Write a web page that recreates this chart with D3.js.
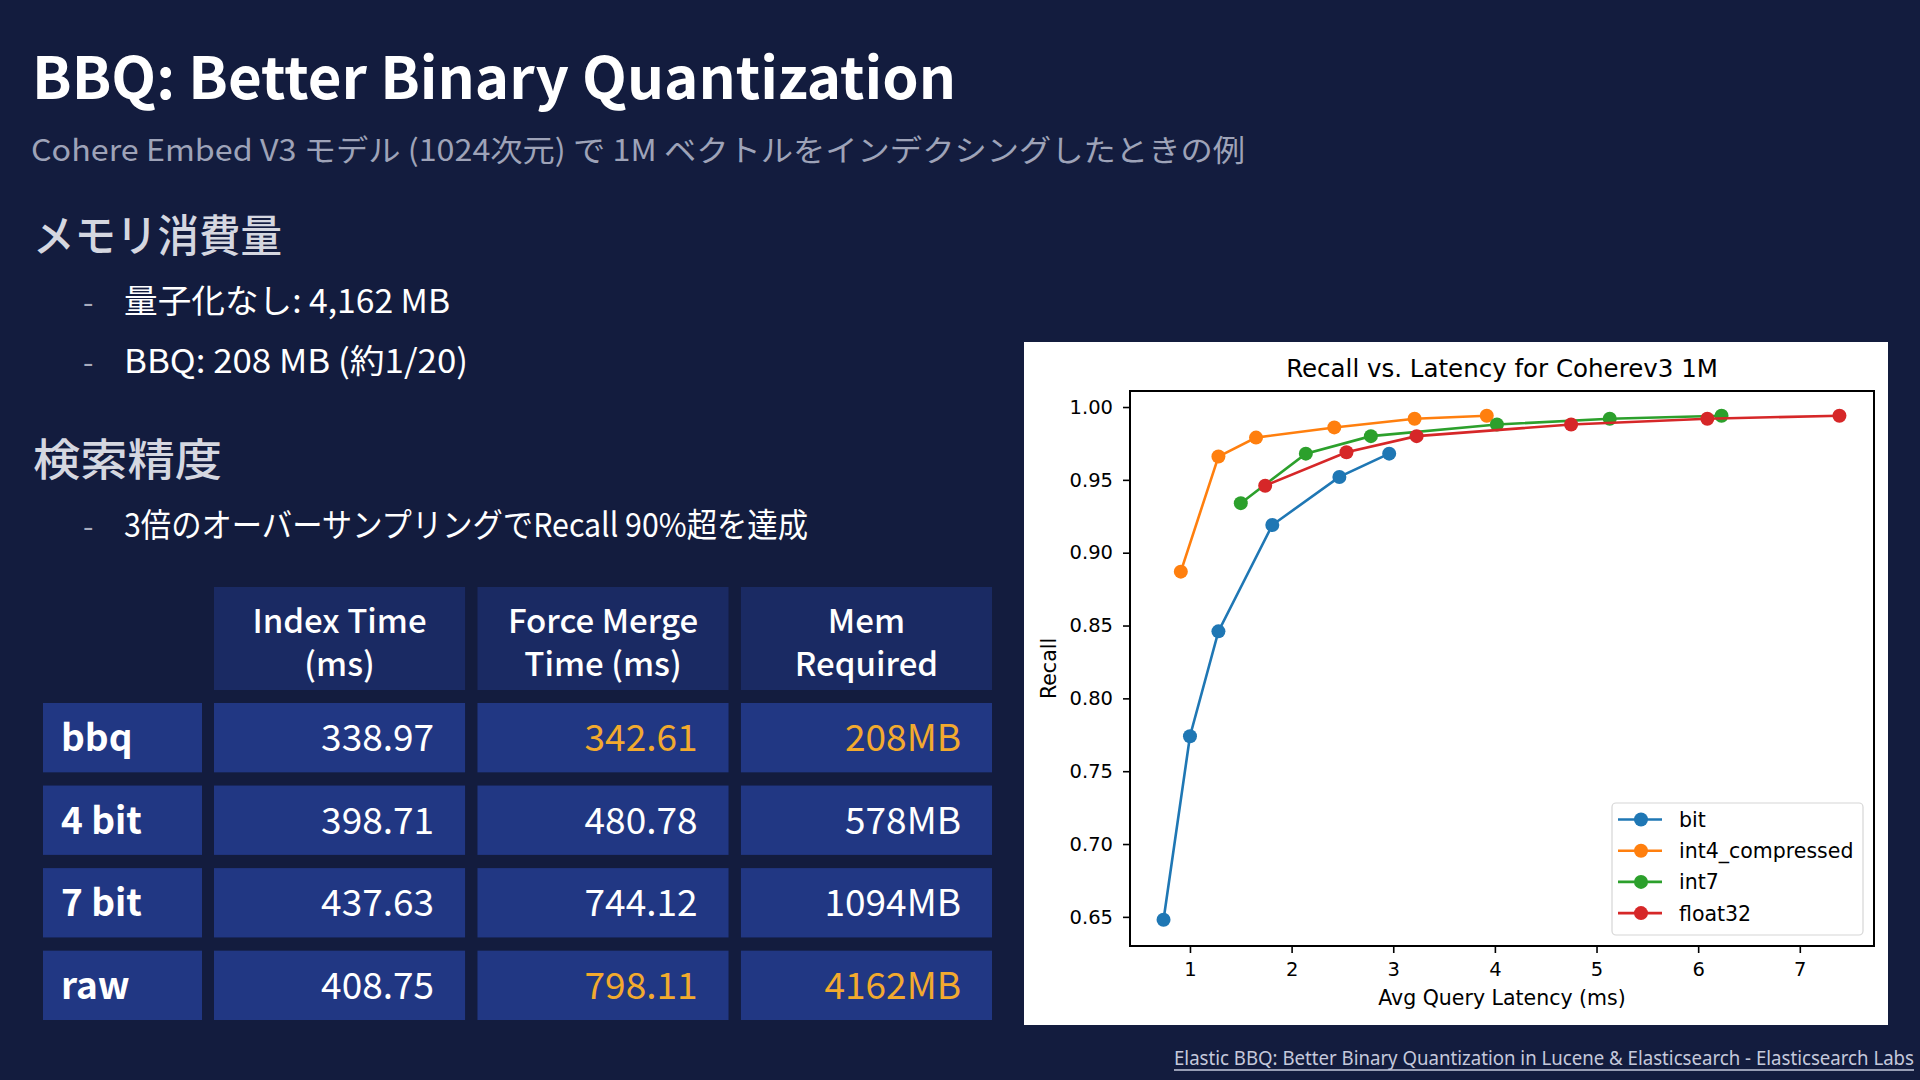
<!DOCTYPE html>
<html>
<head>
<meta charset="utf-8">
<script src="https://cdn.jsdelivr.net/npm/d3@7"></script>
<style>
  body { margin: 0; background: #131c3e; }
  svg { display: block; }
</style>
</head>
<body>
<svg id="drawing_region"></svg>
<script>
// ---- data ----
const seriesNames = ["bit", "int4_compressed", "int7", "float32"];
const seriesColors = ["#1f77b4", "#ff7f0e", "#2ca02c", "#d62728"];

const bitLatency = [0.74, 1.00, 1.28, 1.81, 2.47, 2.96];
const bitRecall = [0.648, 0.774, 0.846, 0.919, 0.952, 0.968];
const int4Latency = [0.91, 1.28, 1.65, 2.42, 3.21, 3.92];
const int4Recall = [0.887, 0.966, 0.979, 0.986, 0.992, 0.994];
const int7Latency = [1.50, 2.14, 2.78, 4.02, 5.13, 6.23];
const int7Recall = [0.934, 0.968, 0.980, 0.988, 0.992, 0.994];
const float32Latency = [1.74, 2.54, 3.23, 4.75, 6.09, 7.39];
const float32Recall = [0.946, 0.969, 0.980, 0.988, 0.992, 0.994];

const xTicks = [1, 2, 3, 4, 5, 6, 7];
const yTicks = [0.65, 0.70, 0.75, 0.80, 0.85, 0.90, 0.95, 1.00];

const tableHeaders = [["Index Time", "(ms)"], ["Force Merge", "Time (ms)"], ["Mem", "Required"]];
const tableRows = ["bbq", "4 bit", "7 bit", "raw"];
const indexTime = ["338.97", "398.71", "437.63", "408.75"];
const forceMergeTime = ["342.61", "480.78", "744.12", "798.11"];
const memRequired = ["208MB", "578MB", "1094MB", "4162MB"];
// cells shown in orange: [row, column]
const highlighted = [[0, 1], [0, 2], [3, 1], [3, 2]];

const pageTitle = "BBQ: Better Binary Quantization";
const pageSubtitle = "Cohere Embed V3 モデル (1024次元) で 1M ベクトルをインデクシングしたときの例";
const memHeading = "メモリ消費量";
const memBullets = ["量子化なし: 4,162 MB", "BBQ: 208 MB (約1/20)"];
const accHeading = "検索精度";
const accBullets = ["3倍のオーバーサンプリングでRecall 90%超を達成"];
const sourceText = "Elastic BBQ: Better Binary Quantization in Lucene & Elasticsearch - Elasticsearch Labs";

// ---- page ----
const W = 1920, H = 1080;
const JP = "'Noto Sans CJK JP', 'Noto Sans', sans-serif";
const svg = d3.select("#drawing_region").attr("width", W).attr("height", H);
svg.append("rect").attr("width", W).attr("height", H).attr("fill", "#131c3e");

function slideText(txt, x, y, size, color, weight, width) {
    const t = svg.append("text")
        .attr("x", x).attr("y", y)
        .attr("fill", color)
        .style("font-family", JP)
        .style("font-size", size + "px")
        .style("font-weight", weight)
        .text(txt);
    if (width) t.attr("textLength", width).attr("lengthAdjust", "spacingAndGlyphs");
    return t;
}

slideText(pageTitle, 32, 99, 58, "#ffffff", 700, 924);
slideText(pageSubtitle, 31, 161, 30, "#9ea3b8", 400, 1214);

slideText(memHeading, 33, 252, 44, "#d5d7e0", 500, 249);
const memWidths = [326, 344];
memBullets.forEach((b, i) => {
    slideText("-", 83, 313 + i * 60, 30, "#a7abbd", 400);
    slideText(b, 124, 313 + i * 60, 33, "#ffffff", 400, memWidths[i]);
});

slideText(accHeading, 33, 476, 44, "#d5d7e0", 500, 189);
slideText("-", 83, 537, 30, "#a7abbd", 400);
slideText(accBullets[0], 124, 537, 33, "#ffffff", 400, 684);

slideText(sourceText, 1914, 1065, 19, "#c5c9dc", 400, 740)
    .attr("text-anchor", "end")
    .style("font-family", "'Noto Sans', sans-serif");
svg.append("line")
    .attr("x1", 1174).attr("x2", 1914)
    .attr("y1", 1070).attr("y2", 1070)
    .attr("stroke", "#c5c9dc").attr("stroke-width", 1.3);

// ---- table ----
const colX = d3.scaleBand().domain([0, 1, 2]).range([214, 992]).paddingInner(0.047).paddingOuter(0);
const rowY = d3.scaleBand().domain(d3.range(tableRows.length)).range([703, 1020]).paddingInner(0.16).paddingOuter(0);
const tableValues = [indexTime, forceMergeTime, memRequired];
const cellFs = 37;

const headerTop = 587, headerBottom = 690;
tableHeaders.forEach((lines, c) => {
    svg.append("rect")
        .attr("x", colX(c)).attr("y", headerTop)
        .attr("width", colX.bandwidth()).attr("height", headerBottom - headerTop)
        .attr("fill", "#1a2a63");
    lines.forEach((ln, k) => {
        svg.append("text")
            .attr("x", colX(c) + colX.bandwidth() / 2)
            .attr("y", 633 + k * 43)
            .attr("text-anchor", "middle")
            .attr("fill", "#ffffff")
            .style("font-family", JP)
            .style("font-size", "33px")
            .style("font-weight", 500)
            .text(ln);
    });
});

tableRows.forEach((name, r) => {
    const y0 = rowY(r), h = rowY.bandwidth();
    const base = y0 + h / 2 + cellFs * 0.37;
    svg.append("rect")
        .attr("x", 43).attr("y", y0).attr("width", 159).attr("height", h)
        .attr("fill", "#213783");
    svg.append("text")
        .attr("x", 61).attr("y", base)
        .attr("fill", "#ffffff")
        .style("font-family", JP)
        .style("font-size", cellFs + "px")
        .style("font-weight", 700)
        .text(name);
    tableValues.forEach((vals, c) => {
        svg.append("rect")
            .attr("x", colX(c)).attr("y", y0)
            .attr("width", colX.bandwidth()).attr("height", h)
            .attr("fill", "#213783");
        const hot = highlighted.some(p => p[0] === r && p[1] === c);
        svg.append("text")
            .attr("x", colX(c) + colX.bandwidth() - 31)
            .attr("y", base)
            .attr("text-anchor", "end")
            .attr("fill", hot ? "#f2aa2e" : "#ffffff")
            .style("font-family", JP)
            .style("font-size", cellFs + "px")
            .text(vals[r]);
    });
});

// ---- chart ----
class LineChart {
    constructor(config, data) {
        this.config = config;
        this.data = data;
        this.init();
    }

    init() {
        let self = this;
        const c = self.config;
        self.panel = svg.append("g");
        self.panel.append("rect")
            .attr("x", c.panel.x).attr("y", c.panel.y)
            .attr("width", c.panel.w).attr("height", c.panel.h)
            .attr("fill", "#ffffff");

        self.xscale = d3.scaleLinear().domain([0.41, 7.73]).range([c.plot.left, c.plot.right]);
        self.yscale = d3.scaleLinear().domain([0.630, 1.011]).range([c.plot.bottom, c.plot.top]);
        self.line = d3.line().x(d => self.xscale(d[0])).y(d => self.yscale(d[1]));
    }

    render() {
        let self = this;
        const c = self.config;
        const font = "'DejaVu Sans', sans-serif";

        const xAxis = d3.axisBottom(self.xscale).tickValues(xTicks).tickSize(7).tickPadding(9).tickFormat(d3.format("d"));
        const yAxis = d3.axisLeft(self.yscale).tickValues(yTicks).tickSize(7).tickPadding(10).tickFormat(d3.format(".2f"));

        const gx = self.panel.append("g")
            .attr("transform", `translate(0,${c.plot.bottom})`)
            .call(xAxis);
        const gy = self.panel.append("g")
            .attr("transform", `translate(${c.plot.left},0)`)
            .call(yAxis);
        [gx, gy].forEach(g => {
            g.select(".domain").remove();
            g.selectAll(".tick line").attr("stroke", "#000").attr("stroke-width", 1.6);
            g.selectAll(".tick text")
                .attr("fill", "#000")
                .style("font-family", font)
                .style("font-size", "19.5px");
        });

        self.panel.append("clipPath").attr("id", "plotclip")
            .append("rect")
            .attr("x", c.plot.left).attr("y", c.plot.top)
            .attr("width", c.plot.right - c.plot.left)
            .attr("height", c.plot.bottom - c.plot.top);

        const series = self.panel.append("g").attr("clip-path", "url(#plotclip)")
            .selectAll("g.series")
            .data(self.data)
            .join("g")
            .attr("class", "series");

        series.append("path")
            .attr("d", d => self.line(d.points))
            .attr("fill", "none")
            .attr("stroke", d => d.color)
            .attr("stroke-width", 2.6);

        series.selectAll("circle")
            .data(d => d.points.map(p => ({p: p, color: d.color})))
            .join("circle")
            .attr("cx", d => self.xscale(d.p[0]))
            .attr("cy", d => self.yscale(d.p[1]))
            .attr("r", 7)
            .attr("fill", d => d.color);

        // spines
        self.panel.append("rect")
            .attr("x", c.plot.left).attr("y", c.plot.top)
            .attr("width", c.plot.right - c.plot.left)
            .attr("height", c.plot.bottom - c.plot.top)
            .attr("fill", "none")
            .attr("stroke", "#000")
            .attr("stroke-width", 2);

        const mid = (c.plot.left + c.plot.right) / 2;
        self.panel.append("text")
            .attr("x", mid).attr("y", 377)
            .attr("text-anchor", "middle")
            .style("font-family", font).style("font-size", "24.5px")
            .text("Recall vs. Latency for Coherev3 1M");
        self.panel.append("text")
            .attr("x", mid).attr("y", 1005)
            .attr("text-anchor", "middle")
            .style("font-family", font).style("font-size", "20.5px")
            .text("Avg Query Latency (ms)");
        self.panel.append("text")
            .attr("transform", `translate(1056,${(c.plot.top + c.plot.bottom) / 2}) rotate(-90)`)
            .attr("text-anchor", "middle")
            .style("font-family", font).style("font-size", "20.5px")
            .text("Recall");

        // legend
        const lg = self.panel.append("g");
        lg.append("rect")
            .attr("x", 1612).attr("y", 803).attr("width", 251).attr("height", 132)
            .attr("rx", 4)
            .attr("fill", "#ffffff").attr("fill-opacity", 0.8)
            .attr("stroke", "#d6d6d6").attr("stroke-width", 1.2);
        const item = lg.selectAll("g.item")
            .data(self.data)
            .join("g")
            .attr("transform", (d, i) => `translate(0,${819.5 + i * 31.2})`);
        item.append("line")
            .attr("x1", 1618).attr("x2", 1662)
            .attr("stroke", d => d.color).attr("stroke-width", 2.6);
        item.append("circle")
            .attr("cx", 1641).attr("r", 7)
            .attr("fill", d => d.color);
        item.append("text")
            .attr("x", 1679).attr("y", 7.5)
            .style("font-family", font).style("font-size", "20.5px")
            .text(d => d.name);
    }
}

const latencies = [bitLatency, int4Latency, int7Latency, float32Latency];
const recalls = [bitRecall, int4Recall, int7Recall, float32Recall];
const chartData = seriesNames.map((name, i) => ({
    name: name,
    color: seriesColors[i],
    points: latencies[i].map((x, j) => [x, recalls[i][j]])
}));

const chart = new LineChart({
    panel: {x: 1024, y: 342, w: 864, h: 683},
    plot: {left: 1130, right: 1874, top: 391, bottom: 946}
}, chartData);
chart.render();
</script>
</body>
</html>
